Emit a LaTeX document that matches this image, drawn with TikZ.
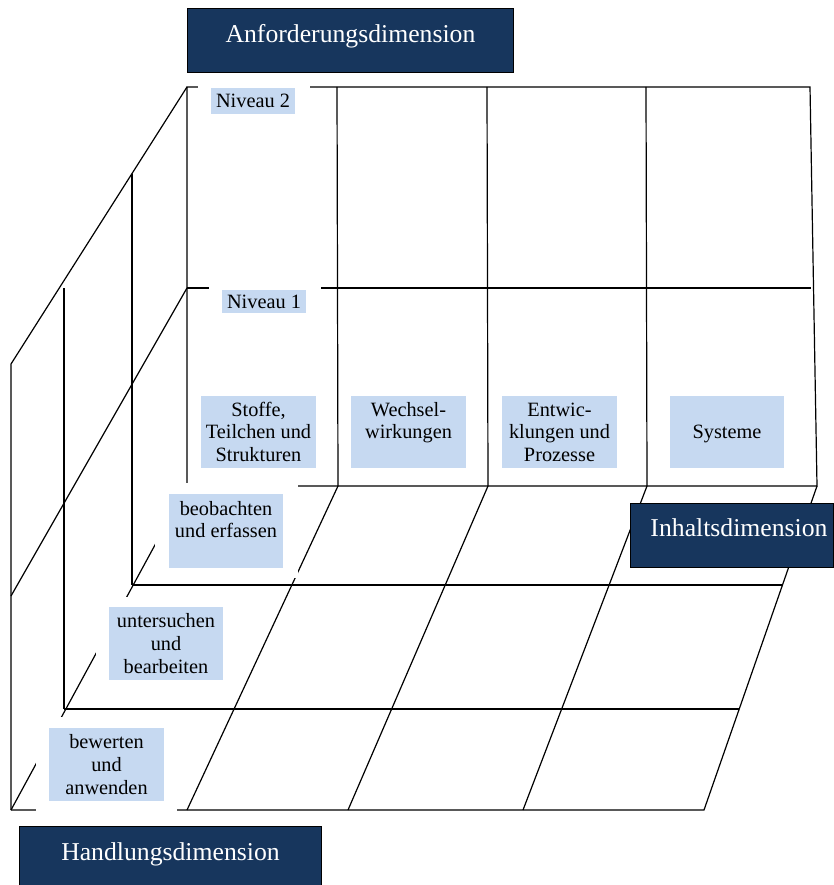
\documentclass[tikz,border=0pt]{standalone}
\usepackage{fontspec}
\setmainfont{Liberation Serif}
\definecolor{navy}{HTML}{17365D}
\definecolor{lblue}{HTML}{C6D9F1}
\newcommand\lblfont{\fontsize{20.3pt}{22.8pt}\selectfont}
\newcommand\dimfont{\fontsize{25.7pt}{30pt}\selectfont}
% line strut that sits the text slightly low in its box
\newcommand\ls{\rule[-4.6pt]{0pt}{22.8pt}}

\begin{document}
\begin{tikzpicture}[x=1pt,y=-1pt,
  edge/.style={draw=black, line width=1.2pt},
  mask/.style={fill=white},
  lbl/.style={fill=lblue, inner sep=0pt, align=center, font=\lblfont},
  dim/.style={fill=navy, draw=black, line width=1pt, text=white,
    font=\dimfont, inner sep=0pt, anchor=north west}
]
\useasboundingbox (0,0) rectangle (834,885);
\clip (0,0) rectangle (834,885);

% back wall: Anforderung x Inhalt
\draw[edge] (187,486) -- (187,87) -- (810,87) -- (817,486) -- cycle;
\draw[edge] (187,288) -- (811,288);
\foreach \a/\b in {337/338, 487/488, 646/647}
  \draw[edge] (\a,87) -- (\b,486);

% side wall: Anforderung x Handlung
\draw[edge] (187,87) -- (11,364) -- (11,810);
\draw[edge] (187,288) -- (11,596);
\draw[edge] (132,174) -- (132,585);
\draw[edge] (64,288) -- (64,709);

% floor: Handlung x Inhalt
\draw[edge] (11,810) -- (704,810) -- (817,486);
\draw[edge] (64,709) -- (739,709);
\draw[edge] (132,585) -- (782,585);
\draw[edge] (187,486) -- (11,810);
\draw[edge] (338,486) -- (187,810);
\draw[edge] (488,486) -- (348,810);
\draw[edge] (647,486) -- (523,810);

% white text-box margins around the labels
\fill[mask] (198,78) rectangle (310,124);
\fill[mask] (209,279) rectangle (321,323);
\fill[mask] (189,386) rectangle (329,478);
\fill[mask] (155,483) rectangle (298,578);
\fill[mask] (96,597) rectangle (236,690);
\fill[mask] (36,717) rectangle (177,811.5);

% level labels
\node[lbl, minimum width=84, minimum height=26] (niv2) at (253,101) {\ls Niveau 2};
\node[lbl, minimum width=84, minimum height=23] (niv1) at (264,301.5) {\ls Niveau 1};

% content labels
\node[lbl, minimum width=115, minimum height=72] (stoffe) at (258.5,432)
  {\ls Stoffe,\\\ls Teilchen und\\\ls Strukturen};
\node[lbl, minimum width=115, minimum height=72] (wechsel) at (408.5,432)
  {\ls Wechsel-\\\ls wirkungen\\\ls};
\node[lbl, minimum width=115, minimum height=72] (entw) at (559.5,432)
  {\ls Entwic-\\\ls klungen und\\\ls Prozesse};
\node[lbl, minimum width=114, minimum height=72] (syst) at (727,432) {\ls Systeme};

% action labels
\node[lbl, minimum width=114, minimum height=74] (beob) at (226,531)
  {\ls beobachten\\\ls und erfassen\\\ls};
\node[lbl, minimum width=114, minimum height=73] (unters) at (166,643.5)
  {\ls untersuchen\\\ls und\\\ls bearbeiten};
\node[lbl, minimum width=115, minimum height=73] (bew) at (106.5,764.5)
  {\ls bewerten\\\ls und\\\ls anwenden};

% dimension titles
\node[dim, minimum width=326, text height=34pt, text depth=30pt] (anf) at (187,8)
  {Anforderungsdimension};
\node[dim, minimum width=203, text height=33pt, text depth=31pt] (inh) at (630,503)
  {\hspace*{14pt}Inhaltsdimension};
\node[dim, minimum width=302, text height=34pt, text depth=30pt] (hand) at (19,826)
  {Handlungsdimension};
\end{tikzpicture}
\end{document}
